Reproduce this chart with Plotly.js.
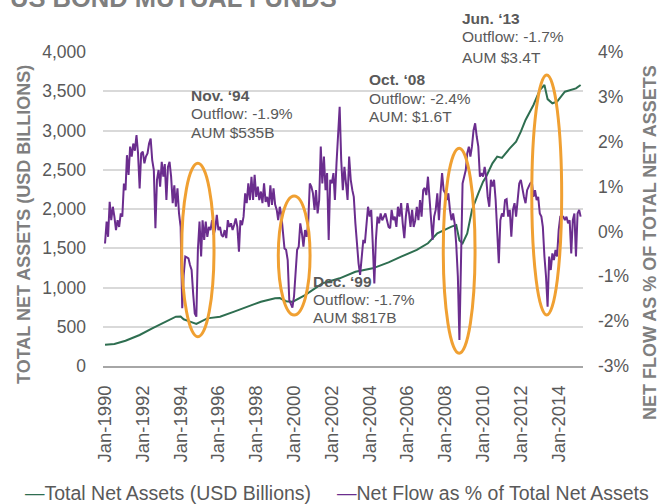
<!DOCTYPE html>
<html>
<head>
<meta charset="utf-8">
<script src="https://cdn.plot.ly/plotly-3.0.1.min.js"></script>
<style>html,body{margin:0;padding:0;background:#fff;}#chart{width:660px;height:504px;}</style>
</head>
<body>
<div id="chart"></div>
<script>
// Net flow as % of total net assets, monthly (Jan 1990 - Mar 2015)
const flow1990s = [
  -0.27, 0.22, -0.12, 0.66, 0.25, 0.55, 0.33, 0.03, 0.25, 0.10, 0.40, 0.33,
  1.07, 0.92, 1.70, 1.26, 1.89, 1.67, 1.96, 1.80, 2.15, 1.74, 0.96, 1.74,
  1.78, 1.52, 1.67, 1.74, 1.96, 2.07, 1.59, 1.37, 0.07, 1.15, 1.37, 1.00,
  1.55, 1.22, 1.50, 0.70, 1.44, 1.55, 1.22, 0.63, 1.03, 0.55, 0.96, 0.40,
  0.10, -1.71, -0.97, -0.56, -0.58, -0.60, -0.75, -0.86, -1.40, -1.83, -1.90, -0.40,
  0.22, -0.56, 0.25, -0.19, 0.22, -0.12, 0.10, 0.03, 0.25, -0.08, 0.07, 0.37,
  0.03, 0.10, -0.08, -0.12, 0.03, -0.15, 0.25, 0.10, 0.18, 0.03, 0.15, 0.29,
  0.10, -0.45, 0.25, 0.14, 0.33, 0.85, 0.63, 1.07, 0.70, 1.22, 0.70, 1.26,
  0.77, 1.00, 0.70, 0.89, 0.63, 1.07, 0.66, 0.77, 0.55, 1.03, 0.59, 0.96,
  0.60, 0.48, 0.25, 0.55, 0.37, -0.04, -0.38, -0.41, -0.64, -1.53, -1.64, -1.70
];
const flow2000s = [
  -1.45, -0.86, -0.41, -0.34, 0.18, -0.04, -0.34, 0.03, -0.12, 0.18, 1.07, 1.00,
  0.85, 0.48, 0.92, 0.40, 0.70, 1.89, 1.07, 1.67, 0.92, 1.30, -0.19, 1.15,
  1.07, 1.30, 0.70, 1.52, 2.26, 2.78, 1.59, 0.92, 1.44, 1.07, 0.70, 1.67,
  1.15, 0.92, 0.77, 0.18, -0.30, -0.71, -0.97, -0.49, -0.19, -0.26, 0.10, 0.55,
  0.33, 0.48, -0.26, -1.16, -0.19, 0.33, 0.18, 0.40, 0.25, 0.33, 0.40, 0.25,
  0.10, 0.07, 0.48, 0.25, 0.33, 0.10, 0.55, 0.33, 0.63, 0.18, -0.15, 0.33,
  0.63, 0.40, 0.10, 0.48, 0.10, 0.25, 0.55, 0.25, 0.70, 0.33, 0.92, 0.97,
  0.81, 1.22, 0.78, 0.48, -0.19, 0.33, 0.48, 0.85, 0.25, 0.85, 1.30, 0.92,
  0.85, 0.70, 0.85, 0.48, 0.25, 0.40, 0.18, -0.30, -1.01, -2.42, -0.27, 1.07,
  1.22, 1.37, 1.74, 1.89, 1.67, 1.90, 2.26, 2.41, 2.11, 1.89, 1.22, 1.30
];
const flow2010s = [
  1.22, 1.44, 1.22, 0.77, 0.55, 1.15, 1.00, 1.15, 0.70, 0.03, -0.71, 0.25,
  0.40, 0.33, 0.70, 0.72, 0.33, 0.48, -0.12, 0.48, 0.63, 0.33, 0.70, 1.07,
  1.15, 0.92, 0.77, 0.63, 0.92, 1.00, 1.07, 1.10, 0.77, 0.92, 0.70, 0.77,
  0.40, 0.33, 0.10, -0.56, -1.00, -1.68, -0.56, -0.86, -0.49, -0.64, -0.41, -0.56,
  0.03, 0.33, 0.33, 0.33, 0.25, 0.33, 0.18, 0.25, -0.49, 0.25, 0.40, -0.56,
  0.40, 0.48, 0.33
];

// Total net assets (USD billions), read at dates along the line
const tnaDates = [
  '1990-01-01','1990-07-01','1991-02-01','1991-11-01','1992-07-01','1993-04-01','1993-10-01',
  '1994-01-01','1994-03-01','1994-07-01','1994-11-01','1995-06-01','1996-02-01','1996-11-01',
  '1997-07-01','1998-04-01','1999-01-01','1999-04-01','1999-08-01','1999-12-01','2000-08-01',
  '2001-07-01','2002-06-01','2003-04-01','2004-03-01','2005-01-01','2005-09-01','2006-07-01',
  '2007-02-01','2007-08-01','2008-05-01','2008-08-01','2008-10-01','2008-12-01','2009-03-01',
  '2009-06-01','2009-10-01','2010-01-01','2010-03-01','2010-07-01','2010-10-01','2011-01-01',
  '2011-06-01','2011-10-01','2012-01-01','2012-04-01','2012-09-01','2013-01-01','2013-04-01',
  '2013-06-01','2013-09-01','2013-12-01','2014-05-01','2014-09-01','2014-12-01','2015-03-01'
];
const tnaValues = [
  270, 280, 322, 395, 480, 565, 628,
  630, 595, 565, 535, 607, 628, 692,
  755, 819, 862, 865, 825, 817, 904,
  1053, 1117, 1201, 1244, 1320, 1393, 1478,
  1563, 1690, 1775, 1796, 1600, 1563, 1690,
  1987, 2200, 2348, 2412, 2582, 2667, 2650,
  2773, 2858, 2985, 3134, 3325, 3516, 3580,
  3400, 3347, 3368, 3494, 3516, 3537, 3580
];

const seriesNames = ['Total Net Assets (USD Billions)', 'Net Flow as % of Total Net Assets'];
const rightTickVals = [-3, -2, -1, 0, 1, 2, 3, 4];
const rightTickText = ['-3%', '-2%', '-1%', '0%', '1%', '2%', '3%', '4%'];
const leftTitle = 'TOTAL NET ASSETS (USD BILLIONS)';
const rightTitle = 'NET FLOW AS % OF TOTAL NET ASSETS';
const chartTitle = 'US BOND MUTUAL FUNDS';
const events = [
  {head: 'Nov. \u201894', flow: 'Outflow: -1.9%', aum: 'AUM $535B'},
  {head: 'Dec. \u201899', flow: 'Outflow: -1.7%', aum: 'AUM $817B'},
  {head: 'Oct. \u201808', flow: 'Outflow: -2.4%', aum: 'AUM: $1.6T'},
  {head: 'Jun. \u201813', flow: 'Outflow: -1.7%', aum: 'AUM $3.4T'}
];

const flowValues = flow1990s.concat(flow2000s, flow2010s);
const flowDates = [];
for (let y = 1990; y <= 2015; y++) {
  for (let m = 1; m <= 12; m++) {
    if (flowDates.length < flowValues.length) flowDates.push(y + '-' + String(m).padStart(2, '0') + '-01');
  }
}

const FONT = 'Liberation Sans, Arial, sans-serif';
const GREEN = '#2e6e50';
const PURPLE = '#6b2d8e';
const ORANGE = '#f0a032';
const TXT = '#595959';
const TITLE_GRAY = '#7f7f7f';

// pixel -> paper helpers (plot area: x 103..583, y 52..366)
const px = X => (X - 103) / 480;
const py = Y => (366 - Y) / 314;

const traces = [
  {x: tnaDates, y: tnaValues, name: seriesNames[0], type: 'scatter', mode: 'lines',
   line: {color: GREEN, width: 2}, yaxis: 'y'},
  {x: flowDates, y: flowValues, name: seriesNames[1], type: 'scatter', mode: 'lines',
   line: {color: PURPLE, width: 2}, yaxis: 'y2'}
];

const evPos = [
  {X: 190, Y: [95, 114, 132]},
  {X: 312, Y: [281, 299, 317]},
  {X: 368, Y: [79, 98, 117]},
  {X: 461, Y: [18, 37, 57]}
];
const annotations = [];
events.forEach((e, i) => {
  const p = evPos[i];
  [ '<b>' + e.head + '</b>', e.flow, e.aum ].forEach((t, j) => {
    annotations.push({text: t, xref: 'paper', yref: 'paper', x: px(p.X), y: py(p.Y[j]),
      xanchor: 'left', yanchor: 'middle', showarrow: false, borderpad: 0,
      font: {family: FONT, size: 15.5, color: TXT}});
  });
});
annotations.push({text: '<b>' + chartTitle + '</b>', xref: 'paper', yref: 'paper',
  x: px(8), y: py(14), xanchor: 'left', yanchor: 'bottom', showarrow: false,
  font: {family: FONT, size: 25.5, color: TITLE_GRAY}});
annotations.push({text: '<b>' + leftTitle + '</b>', xref: 'paper', yref: 'paper',
  x: px(24), y: py(225), xanchor: 'center', yanchor: 'middle', textangle: -90, showarrow: false,
  font: {family: FONT, size: 18, color: TITLE_GRAY}});
annotations.push({text: '<b>' + rightTitle + '</b>', xref: 'paper', yref: 'paper',
  x: px(650), y: py(243), xanchor: 'center', yanchor: 'middle', textangle: -90, showarrow: false,
  font: {family: FONT, size: 18, color: TITLE_GRAY}});
// legend entries (short line key followed by the series name)
const legendItems = [
  {X: 24, color: GREEN, name: seriesNames[0]},
  {X: 336, color: PURPLE, name: seriesNames[1]}
];
legendItems.forEach(it => {
  annotations.push({text: '<span style="color:' + it.color + '">\u2014</span>' + it.name,
    xref: 'paper', yref: 'paper', x: px(it.X), y: py(493), xanchor: 'left', yanchor: 'middle',
    showarrow: false, borderpad: 0, font: {family: FONT, size: 19.5, color: TXT}});
});

const ellipses = [
  ['1994-01-22', '1995-10-08', 373, 2582],
  ['1999-03-03', '2000-11-06', 650, 2166],
  ['2007-11-24', '2009-07-30', 162, 2773],
  ['2012-07-30', '2014-02-28', 650, 3707]
];
const shapes = ellipses.map(e => ({type: 'circle', xref: 'x', yref: 'y', x0: e[0], x1: e[1], y0: e[2], y1: e[3],
  line: {color: ORANGE, width: 3}, layer: 'above'}));

const layout = {
  width: 660, height: 504,
  margin: {l: 103, r: 77, t: 52, b: 138, pad: 0, autoexpand: false},
  paper_bgcolor: '#ffffff', plot_bgcolor: '#ffffff',
  font: {family: FONT, color: TXT},
  showlegend: false,
  xaxis: {type: 'date', range: ['1989-11-23', '2015-04-16'], tick0: '1990-01-01', dtick: 'M24',
    tickformat: '%b-%Y', tickangle: -90, tickfont: {family: FONT, size: 18.5, color: TXT},
    showgrid: false, showline: true, linecolor: '#a6a6a6', linewidth: 2, ticks: '',
    ticklabelstandoff: 10, zeroline: false, automargin: false},
  yaxis: {range: [0, 4000], dtick: 500, tickformat: ',d', gridcolor: '#d9d9d9', gridwidth: 2,
    zeroline: false, showline: false, ticks: '', tickfont: {family: FONT, size: 17.5, color: TXT},
    ticklabelstandoff: 16, automargin: false},
  yaxis2: {range: [-3, 4], tickmode: 'array', tickvals: rightTickVals, ticktext: rightTickText,
    overlaying: 'y', side: 'right', showgrid: false,
    zeroline: false, showline: false, ticks: '', tickfont: {family: FONT, size: 17.5, color: TXT},
    ticklabelstandoff: 14, automargin: false},
  annotations: annotations,
  shapes: shapes
};

Plotly.newPlot('chart', traces, layout, {displayModeBar: false, staticPlot: true});
</script>
</body>
</html>
